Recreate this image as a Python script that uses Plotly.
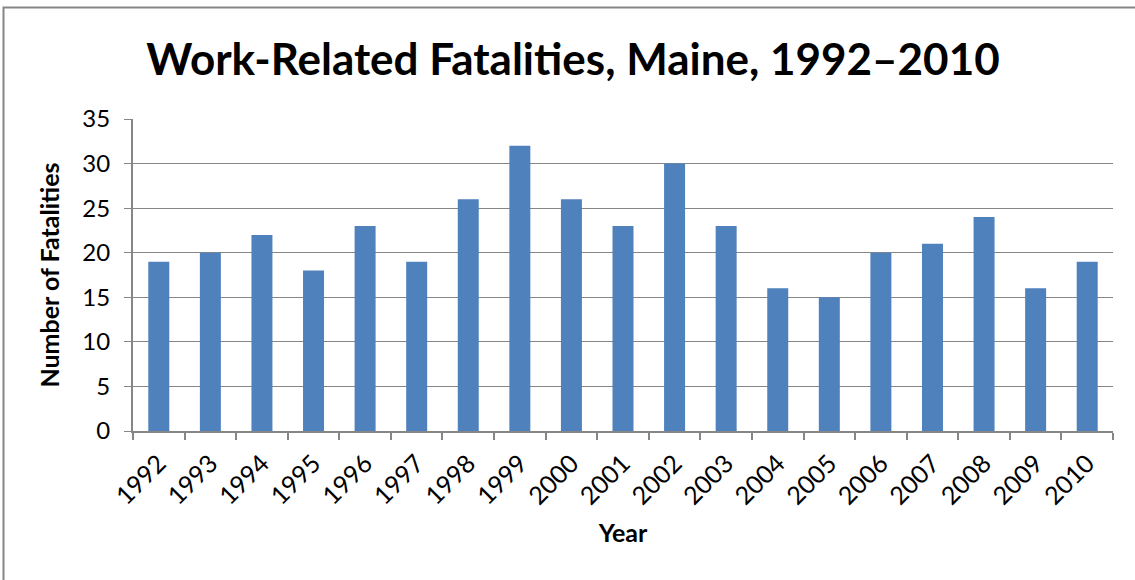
import plotly.graph_objects as go

# datos
years = [str(y) for y in range(1992, 2011)]
fatalities = [19, 20, 22, 18, 23, 19, 26, 32, 26, 23, 30, 23, 16, 15, 20, 21, 24, 16, 19]

font_name = "Lato, Noto Sans, sans-serif"
gris = "#868686"

fig = go.Figure()

fig.add_trace(go.Bar(
    x=years,
    y=fatalities,
    marker=dict(color="#4F81BD", line=dict(width=0)),
    showlegend=False
))

# marco exterior del grafico
fig.add_shape(type="rect", xref="paper", yref="paper",
              x0=(3.5 - 133) / 980, x1=1.2, y0=-1.0, y1=1.357,
              line=dict(color=gris, width=2), fillcolor="rgba(0,0,0,0)", layer="below")

fig.update_layout(
    width=1135, height=580,
    margin=dict(l=133, r=22, t=119, b=149),
    paper_bgcolor="white",
    plot_bgcolor="white",
    bargap=0.593,
    font=dict(family=font_name, color="black"),
    title=dict(
        text="<b>Work-Related Fatalities, Maine, 1992–2010</b>",
        x=573 / 1135, xanchor="center", xref="container",
        y=1 - 60 / 580, yanchor="middle",
        font=dict(size=44, family=font_name, color="black")
    ),
    xaxis=dict(
        title=dict(text="<b>Year</b>", font=dict(size=25), standoff=16),
        tickangle=-45,
        tickfont=dict(size=25),
        tickson="boundaries",
        ticks="outside", ticklen=7, tickcolor=gris, tickwidth=2,
        ticklabelstandoff=6,
        showline=True, linecolor=gris, linewidth=2,
        showgrid=False
    ),
    yaxis=dict(
        title=dict(text="<b>Number of Fatalities</b>", font=dict(size=25), standoff=16),
        range=[0, 35], dtick=5,
        tickfont=dict(size=24),
        ticks="outside", ticklen=7, tickcolor=gris, tickwidth=1,
        ticklabelstandoff=9,
        showline=True, linecolor=gris, linewidth=2,
        showgrid=True, gridcolor=gris, gridwidth=1,
        zeroline=False
    )
)

# quitar el margen del body para que la figura quede en 0,0
fig.write_html("out.html", config={"displayModeBar": False},
               post_script="document.body.style.margin='0px';")
